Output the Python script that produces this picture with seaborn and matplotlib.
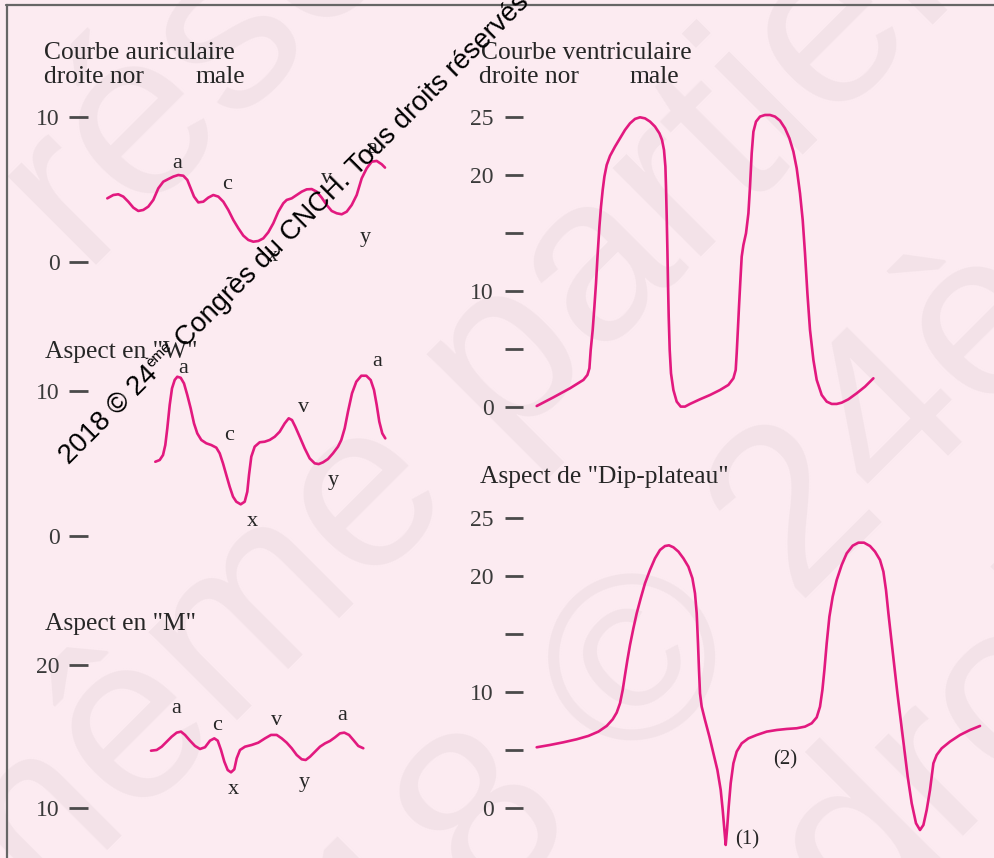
import matplotlib
matplotlib.use("Agg")
import matplotlib.pyplot as plt
import seaborn as sns
import numpy as np
from matplotlib.lines import Line2D

# ---------------------------------------------------------------
# Pressure traces (mmHg) against time (arbitrary units)
# ---------------------------------------------------------------
# Normal right atrial curve
atrial_t = [0, 6, 11, 16, 21, 26, 31, 36, 41, 46, 51, 56, 61, 66, 71, 76, 80,
            83.4, 86.7, 91, 96, 101, 106, 111, 116, 121, 126, 131, 136, 141,
            146, 151, 156, 161, 166, 171, 176, 179.4, 184.4, 189.4, 194.4,
            199.4, 204.4, 209.4, 214.4, 219.4, 224.4, 229.4, 234.4, 239.4,
            244.4, 249.4, 254.4, 259.4, 264.4, 269.4, 274.4, 277.7]
atrial_p = [4.39, 4.62, 4.67, 4.51, 4.16, 3.75, 3.52, 3.59, 3.82, 4.28, 5.08,
            5.54, 5.72, 5.89, 6.00, 5.95, 5.66, 5.08, 4.51, 4.11, 4.16, 4.44,
            4.62, 4.51, 4.16, 3.59, 2.90, 2.33, 1.82, 1.52, 1.40, 1.45, 1.63,
            2.05, 2.67, 3.47, 4.05, 4.28, 4.39, 4.62, 4.85, 5.01, 5.03, 4.85,
            4.44, 3.93, 3.52, 3.36, 3.29, 3.47, 3.93, 4.62, 5.77, 6.46, 6.92,
            6.97, 6.74, 6.51]
atrial_waves = ["a", "c", "x", "v", "y", "a"]

# "W" shaped atrial curve
w_t = [0.3, 4.7, 8.0, 10.3, 12.3, 14.7, 17.0, 19.7, 22.3, 25.7, 29.0, 32.3,
       35.7, 39.0, 42.3, 46.3, 51.3, 56.3, 61.3, 64.7, 68.0, 71.3, 74.7, 78.0,
       81.3, 85.7, 89.7, 92.3, 94.0, 96.3, 99.7, 104.7, 109.7, 114.7, 119.7,
       124.7, 129.7, 133.7, 137.0, 140.3, 144.7, 149.7, 154.7, 159.7, 163.7,
       168.0, 173.0, 178.0, 183.0, 186.3, 189.7, 193.0, 197.0, 201.3, 206.3,
       211.3, 215.7, 219.0, 221.7, 224.3, 227.3, 230.3]
w_p = [5.11, 5.23, 5.57, 6.26, 7.41, 9.02, 10.16, 10.74, 10.96, 10.89, 10.50,
       9.70, 8.78, 7.75, 7.06, 6.61, 6.38, 6.26, 6.08, 5.69, 5.00, 4.20, 3.39,
       2.71, 2.36, 2.18, 2.36, 3.05, 4.20, 5.46, 6.15, 6.45, 6.49, 6.61, 6.83,
       7.18, 7.75, 8.10, 7.98, 7.52, 6.83, 6.03, 5.34, 5.00, 4.95, 5.07, 5.30,
       5.69, 6.15, 6.61, 7.41, 8.56, 9.82, 10.62, 11.03, 11.03, 10.73, 10.05,
       9.02, 7.87, 7.06, 6.72]
w_waves = ["a", "c", "x", "v", "y", "a"]

# "M" shaped atrial curve
m_t = [0, 5.7, 10.7, 15.7, 20.7, 25.7, 30.0, 34.0, 39.0, 44.0, 49.0, 54.0,
       59.0, 63.3, 66.7, 70.0, 73.3, 76.7, 80.0, 83.3, 85.7, 89.0, 94.0,
       100.7, 107.3, 114.0, 120.0, 125.7, 130.7, 135.7, 140.7, 145.7, 150.7,
       154.7, 159.0, 164.0, 169.0, 174.0, 179.0, 184.0, 189.0, 193.3, 198.0,
       202.3, 207.3, 212.3]
m_p = [14.02, 14.07, 14.30, 14.65, 15.00, 15.28, 15.35, 15.12, 14.72, 14.35,
       14.14, 14.26, 14.72, 14.88, 14.72, 14.07, 13.26, 12.67, 12.51, 12.72,
       13.49, 14.07, 14.30, 14.42, 14.58, 14.88, 15.12, 15.12, 14.88, 14.58,
       14.19, 13.72, 13.42, 13.37, 13.60, 13.95, 14.30, 14.53, 14.70, 14.95,
       15.23, 15.28, 15.12, 14.77, 14.35, 14.19]
m_waves = ["a", "c", "x", "v", "y", "a"]

# Normal right ventricular curve
vent_t = [0, 16.7, 33.3, 46.7, 50.7, 52.7, 54.0, 56.0, 57.7, 59.3, 61.0, 62.7,
          64.3, 66.0, 67.7, 70.0, 73.3, 78.3, 83.3, 88.3, 93.3, 98.3, 103.3,
          108.3, 113.3, 118.3, 122.7, 125.3, 127.3, 128.7, 129.3, 130.0,
          130.7, 131.3, 132.0, 133.0, 134.3, 136.7, 140.0, 144.0, 148.3,
          153.3, 163.3, 173.3, 183.3, 191.7, 196.7, 199.0, 200.0, 201.0,
          202.3, 203.7, 205.0, 206.7, 209.3, 211.7, 213.3, 215.0, 216.7,
          219.3, 223.3, 228.3, 233.3, 238.3, 243.3, 248.3, 252.7, 256.7,
          260.0, 263.3, 266.0, 268.3, 270.7, 273.3, 276.7, 280.0, 285.0,
          290.0, 295.0, 300.0, 305.0, 311.7, 320.0, 328.3, 336.7]
vent_p = [0.11, 0.86, 1.64, 2.36, 2.79, 3.36, 4.94, 6.67, 8.68, 10.69, 13.28,
          15.57, 17.30, 18.74, 19.89, 20.89, 21.67, 22.47, 23.19, 23.91, 24.48,
          24.86, 25.00, 24.91, 24.63, 24.20, 23.62, 23.05, 22.18, 20.75, 19.02,
          16.44, 13.56, 10.69, 7.82, 4.94, 2.93, 1.49, 0.49, 0.06, 0.06, 0.29,
          0.69, 1.06, 1.49, 1.93, 2.50, 3.22, 4.66, 6.38, 8.68, 10.98, 12.99,
          13.99, 15.00, 16.72, 19.02, 21.90, 23.76, 24.63, 25.06, 25.20, 25.20,
          25.06, 24.71, 24.05, 23.19, 22.04, 20.60, 18.45, 16.15, 13.28, 9.83,
          6.67, 4.08, 2.36, 1.06, 0.49, 0.29, 0.29, 0.40, 0.69, 1.21, 1.78,
          2.50]

# "Dip-plateau" ventricular curve
dip_t = [0, 13.3, 26.7, 40.0, 51.7, 61.7, 70.0, 76.0, 80.0, 83.3, 86.0, 88.3,
         90.7, 93.3, 96.7, 100.0, 104.0, 108.3, 113.3, 118.3, 123.3, 128.3,
         132.3, 136.7, 141.7, 146.7, 151.7, 155.7, 158.3, 160.0, 161.3, 162.3,
         163.3, 165.0, 168.3, 172.7, 176.7, 180.7, 184.0, 186.0, 187.7, 189.0,
         190.3, 192.0, 194.0, 196.7, 200.0, 205.0, 211.7, 220.0, 230.0, 240.0,
         250.0, 260.0, 268.3, 275.0, 280.0, 283.3, 285.7, 287.7, 290.0, 292.7,
         296.0, 300.0, 305.0, 310.0, 316.0, 321.7, 327.3, 333.3, 338.3, 343.3,
         346.7, 349.3, 351.7, 354.3, 357.3, 360.7, 364.0, 367.3, 371.0, 375.0,
         379.3, 383.3, 386.7, 390.0, 393.3, 396.7, 400.0, 405.0, 413.3, 423.3,
         433.3, 443.3]
dip_p = [5.26, 5.46, 5.69, 5.95, 6.24, 6.61, 7.10, 7.67, 8.25, 9.05, 10.20,
         11.49, 12.79, 14.08, 15.52, 16.81, 18.10, 19.40, 20.55, 21.55, 22.27,
         22.61, 22.67, 22.50, 22.13, 21.55, 20.83, 19.83, 18.53, 16.81, 14.22,
         11.93, 9.91, 8.76, 7.61, 6.18, 4.74, 3.30, 1.58, -0.14, -1.87, -3.16,
         -1.87, 0.14, 2.16, 3.88, 4.89, 5.60, 6.03, 6.32, 6.61, 6.75, 6.84,
         6.90, 7.04, 7.33, 7.84, 8.76, 10.20, 11.93, 14.22, 16.52, 18.25, 19.68,
         20.98, 21.98, 22.64, 22.90, 22.90, 22.61, 22.13, 21.41, 20.40, 18.82,
         16.81, 14.80, 12.50, 9.91, 7.61, 5.32, 2.73, 0.43, -1.29, -1.87,
         -1.44, -0.14, 1.58, 3.88, 4.60, 5.17, 5.75, 6.32, 6.75, 7.10]
dip_marks = ["(1)", "(2)"]

# ---------------------------------------------------------------
# Style
# ---------------------------------------------------------------
W, H = 994, 858
BG = "#fcebf1"
TRACE = "#e2197f"
INK = "#262626"
TICK = "#4a4a4a"
FAINT = "#f3e2e8"
SERIF = ["Liberation Serif", "DejaVu Serif"]
SANS = ["Liberation Sans", "DejaVu Sans"]

sns.set_theme(style="white")
plt.rcParams["font.family"] = SERIF

fig = plt.figure(figsize=(W / 100, H / 100), dpi=100)
fig.patch.set_facecolor(BG)


def fx(px):
    return px / W


def fy(py):
    return 1 - py / H


# Large pale background lettering, tilted at 45 degrees
for text, bx, by in [("réservés", 81, 265),
                     ("même partielle", -6, 963),
                     ("2018 © 24ème", 211, 1194),
                     ("Tous droits", 461, 1339)]:
    fig.text(fx(bx), fy(by), text, fontsize=170, rotation=45,
             rotation_mode="anchor", ha="left", va="baseline", color=FAINT,
             family=SANS, zorder=-5)


def panel(box, ref, start_px, ticks, ticklabels, tick_len, pad):
    """Axes spanning a pixel box; ref gives two (value, pixel row) pairs."""
    left, right, top, bottom = box
    (va, ya), (vb, yb) = ref
    k = (ya - yb) / (vb - va)
    ax = fig.add_axes([fx(left), fy(bottom), (right - left) / W, (bottom - top) / H])
    ax.set_facecolor("none")
    ax.set_ylim(va - (bottom - ya) / k, va + (ya - top) / k)
    ax.set_xlim(left - start_px, right - start_px)
    for s in ax.spines.values():
        s.set_visible(False)
    ax.set_xticks([])
    ax.set_yticks(ticks)
    ax.set_yticklabels(ticklabels)
    ax.tick_params(axis="y", left=True, direction="out", length=tick_len,
                   width=2.0, color=TICK, pad=pad, labelsize=17,
                   labelcolor="#3a3a3a")
    return ax


def trace(ax, t, p):
    sns.lineplot(x=t, y=p, ax=ax, color=TRACE, lw=1.9, sort=False,
                 estimator=None, legend=False,
                 solid_joinstyle="round", solid_capstyle="round")
    ax.set_xlabel("")
    ax.set_ylabel("")


def wave_labels(ax, names, pos, size=16):
    for name, (t, v) in zip(names, pos):
        ax.text(t, v, name, ha="center", va="center", fontsize=size, color=INK)


# Normal right atrial curve
ax1 = panel((88, 400, 100, 285), ((10, 117), (0, 262)), 107.3,
            [0, 10], ["0", "10"], 14.0, 6.5)
trace(ax1, atrial_t, atrial_p)
wave_labels(ax1, atrial_waves, [(69.4, 6.8), (119.4, 5.36), (165, 0.37),
                                (219.4, 5.77), (257.7, 1.7), (264.4, 7.84)])

# "W" aspect
ax2 = panel((88, 400, 355, 550), ((10, 390.7), (0, 536)), 155,
            [0, 10], ["0", "10"], 14.0, 6.5)
trace(ax2, w_t, w_p)
wave_labels(ax2, w_waves, [(28.3, 11.54), (74.3, 6.95), (97.3, 0.98),
                           (149, 8.86), (178.3, 3.85), (222.3, 12.04)])

# "M" aspect
ax3 = panel((88, 400, 645, 830), ((20, 665), (10, 808.3)), 151,
            [10, 20], ["10", "20"], 14.0, 6.5)
trace(ax3, m_t, m_p)
wave_labels(ax3, m_waves, [(24.7, 16.93), (65.7, 15.81), (82.3, 11.28),
                           (125.7, 16.16), (153, 11.79), (190.7, 16.46)])

# Normal right ventricular curve
ax4 = panel((523, 920, 100, 425), ((25, 117.3), (0, 407.3)), 536.7,
            [0, 5, 10, 15, 20, 25], ["0", "", "10", "", "20", "25"], 13.0, 8)
trace(ax4, vent_t, vent_p)

# "Dip-plateau" aspect
ax5 = panel((523, 994, 500, 858), ((25, 518.3), (0, 808.3)), 536.7,
            [0, 5, 10, 15, 20, 25], ["0", "", "10", "", "20", "25"], 13.0, 8)
trace(ax5, dip_t, dip_p)
wave_labels(ax5, dip_marks, [(210, -2.73), (248.3, 4.16)], size=15)

# Panel titles
title_kw = dict(fontsize=18.4, color=INK, va="baseline", ha="left")
fig.text(fx(44), fy(59), "Courbe auriculaire", **title_kw)
fig.text(fx(44), fy(83), "droite nor", **title_kw)
fig.text(fx(195), fy(83), "male", **title_kw)
fig.text(fx(481), fy(59), "Courbe ventriculaire", **title_kw)
fig.text(fx(479), fy(83), "droite nor", **title_kw)
fig.text(fx(629), fy(83), "male", **title_kw)
fig.text(fx(45), fy(358), 'Aspect en "W"', **title_kw)
fig.text(fx(45), fy(630), 'Aspect en "M"', **title_kw)
fig.text(fx(480), fy(483), 'Aspect de "Dip-plateau"', **title_kw)

# Outer frame (left and top edges)
fig.add_artist(Line2D([fx(7), fx(7)], [fy(5), fy(H + 5)], color="#666666", lw=1.6))
fig.add_artist(Line2D([fx(6), fx(W + 5)], [fy(5), fy(5)], color="#666666", lw=1.6))

# Diagonal copyright notice, drawn piece by piece along a 45 degree baseline
renderer = fig.canvas.get_renderer()
angle = 45.0
ca, sa = np.cos(np.radians(angle)), np.sin(np.radians(angle))
pieces = [("2018 © 24", 19.7, 0.0), ("ème", 11.0, 10.3),
          (" Congrès du CNCH. Tous droits réservés", 19.7, 0.0)]
x0, y0 = 69.0, H - 465.0  # display pixels, origin bottom-left
for s, size, rise in pieces:
    probe = fig.text(0, 0, s.replace(" ", "\u00a0"), fontsize=size, family=SANS)
    w = probe.get_window_extent(renderer).width
    probe.remove()
    px = x0 - rise * sa
    py = y0 + rise * ca
    fig.text(px / W, py / H, s, fontsize=size, rotation=angle,
             rotation_mode="anchor", ha="left", va="baseline", color="black",
             family=SANS)
    x0 += w * ca
    y0 += w * sa

fig.savefig("out.png", dpi=100, facecolor=BG)
